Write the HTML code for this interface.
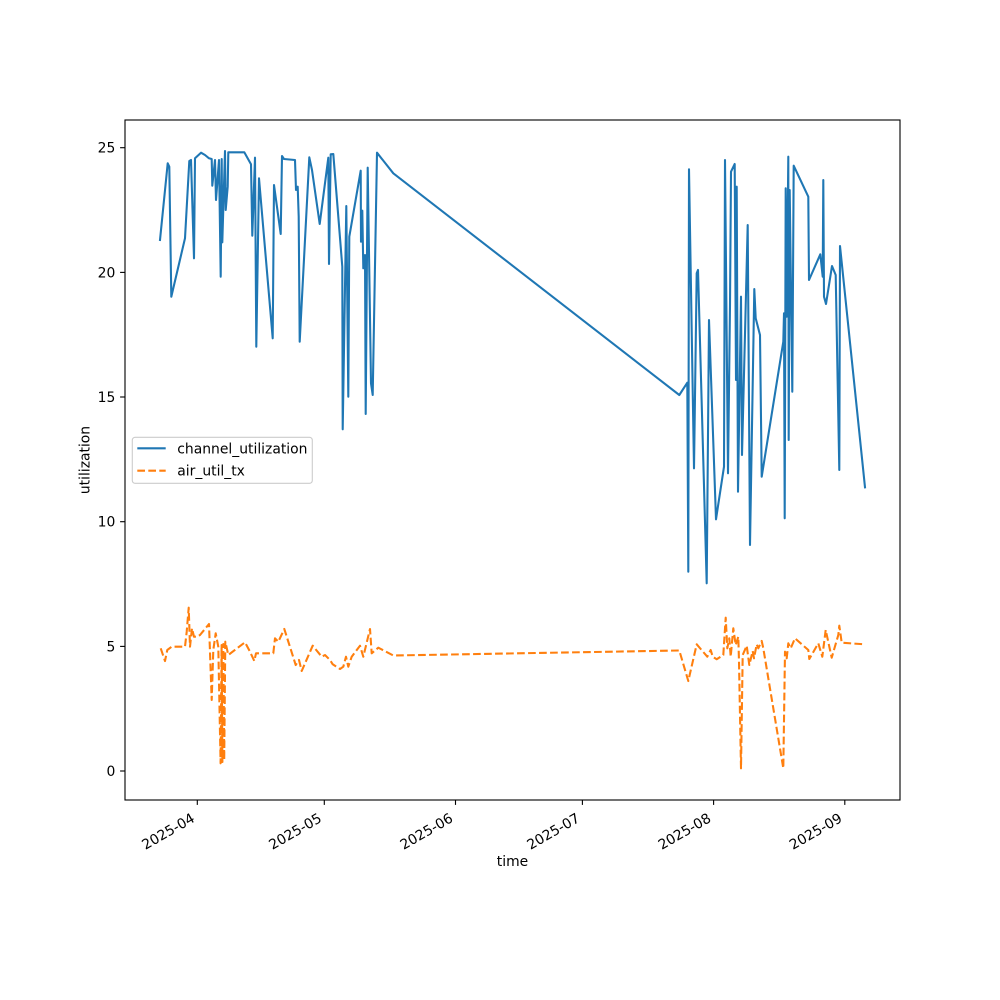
<!DOCTYPE html>
<html><head><meta charset="utf-8"><style>
html,body{margin:0;padding:0;background:#fff;}
svg{display:block;}
text{font-family:"DejaVu Sans","Liberation Sans",sans-serif;font-size:13.9px;fill:#000;}
</style></head><body>
<svg width="1000" height="1000" viewBox="0 0 1000 1000" xmlns="http://www.w3.org/2000/svg">
<rect x="0" y="0" width="1000" height="1000" fill="#fff"/>
<defs><clipPath id="c"><rect x="125" y="120" width="775" height="680"/></clipPath></defs>
<g clip-path="url(#c)" fill="none" stroke-linejoin="round">
<polyline stroke="#1f77b4" stroke-width="2.08" stroke-linecap="square" points="160,240 167.7,163.3 169.3,166.7 171.3,296.7 185,238.3 189.3,161 191,160 194,258.3 195,158.3 201,152.7 205,155 209,158.3 211.7,159 212.3,185.7 215,160 216,200 219,160 220.7,276.7 221.7,159 222.3,242.3 225,151 225.7,210 227.7,186.7 228.3,152.3 244.3,152.3 251,164.3 252.3,235.7 255,157.7 256.3,346.7 259,178.3 272.7,338.3 274,185 280.7,234 282,156 284,159 295,160 296,190 297.7,186.7 298.7,216.7 299.7,341.7 309.3,157.3 312,170 319.7,224 328.3,157.7 329,264 330.7,154.3 333.3,154 342.3,266.7 342.7,429.3 346.3,206 348.3,396.7 349.3,236.7 360.7,170.7 361,241.7 362.3,210.7 363.3,268.3 365,255 365.7,414 367.7,167.7 371,383.3 372.7,395 377,152.7 393.3,173.3 679.3,395 687.3,382.7 688.3,571.7 689,169.3 694,468.3 696.7,273.3 698,270 706.7,583.3 709,320 716,519.3 724,466.7 725,160 728,473.3 730,305 731,171.7 734.7,164 736,380 736.7,186.7 738,491.7 741,296.7 742,455 747.7,225 750,545 754.3,289 755.7,318.3 760,335 761.7,476.7 783.3,341.7 784,313.3 784.7,518.3 785.7,188.3 786.7,316.7 788.3,156.7 788.7,440 789.7,190 792.3,391.7 793.7,165.7 808.3,196.7 809,280 820.3,254.3 822.7,276.7 823.3,180 824,296.7 826,304 832,266 835.7,275 839.3,470 840,246 865,487.3"/>
<polyline stroke="#ff7f0e" stroke-width="2.08" stroke-dasharray="7.7 3.3" points="160.7,648.3 165,661 167.3,650 171.7,646.7 185,646.7 186.7,631.7 188.7,607.7 190,646.7 192,628.3 194,636.7 197.3,636.7 200,635 209,624 211.7,700 213.3,650 215.7,633.3 218.3,646.7 220.6,763.3 221.6,645 222.4,762 223.3,644 224.2,760 225.3,641.7 228.3,655 245,642.3 250,651.7 254.3,661 256,653.3 273.3,653.3 275,638.3 278.3,641.7 284.3,629 295.7,665 299,660 301.7,671 312.7,645.7 321.7,656.7 325,655 330,660 332.7,664.3 340,669 343.3,666.7 346,656.7 348.3,666.7 351.7,656.7 360,645.7 363.3,656.7 370,629 371.7,653.3 378.3,647.7 393.3,655.5 679.3,650.5 688.3,681 696.7,644.3 707.3,656.7 710.7,650 712.7,656.7 716.7,659.3 723.3,655 725.7,617.7 727.3,648.3 729.3,638.3 730.7,656.7 733.3,628.3 735.7,645 738.3,636.7 739,661.7 741,768.3 742.7,655 746.7,645.7 749.3,665 752.7,651 754,658.3 756.7,644.3 758.3,648.3 761.7,641 763.3,648.3 783.3,768.3 785,651.7 786.7,658.3 788.3,643.3 790.7,648.3 795,638.3 808.3,650 809.3,659 818.3,643.3 822.3,656.7 825.7,630 831.7,657.7 838.3,635 839.3,625.7 841.7,642.7 864.3,644.3"/>
</g>
<rect x="125" y="120" width="775" height="680" fill="none" stroke="#000" stroke-width="1.11"/>
<g stroke="#000" stroke-width="1.11">
<line x1="125" y1="771" x2="120.1" y2="771"/>
<line x1="125" y1="646.4" x2="120.1" y2="646.4"/>
<line x1="125" y1="521.7" x2="120.1" y2="521.7"/>
<line x1="125" y1="397" x2="120.1" y2="397"/>
<line x1="125" y1="272.4" x2="120.1" y2="272.4"/>
<line x1="125" y1="147.7" x2="120.1" y2="147.7"/>
<line x1="197.3" y1="800" x2="197.3" y2="804.9"/>
<line x1="324.3" y1="800" x2="324.3" y2="804.9"/>
<line x1="455.5" y1="800" x2="455.5" y2="804.9"/>
<line x1="582.4" y1="800" x2="582.4" y2="804.9"/>
<line x1="713.6" y1="800" x2="713.6" y2="804.9"/>
<line x1="844.8" y1="800" x2="844.8" y2="804.9"/>
</g>
<g text-anchor="end">
<text x="115.3" y="776">0</text>
<text x="115.3" y="651.4">5</text>
<text x="115.3" y="526.7">10</text>
<text x="115.3" y="402">15</text>
<text x="115.3" y="277.4">20</text>
<text x="115.3" y="152.7">25</text>
</g>
<g text-anchor="end">
<text transform="translate(195.7,821) rotate(-30)">2025-04</text>
<text transform="translate(322.7,821) rotate(-30)">2025-05</text>
<text transform="translate(453.9,821) rotate(-30)">2025-06</text>
<text transform="translate(580.8,821) rotate(-30)">2025-07</text>
<text transform="translate(712,821) rotate(-30)">2025-08</text>
<text transform="translate(843.2,821) rotate(-30)">2025-09</text>
</g>
<text x="512.5" y="866" text-anchor="middle">time</text>
<text transform="translate(89.5,460) rotate(-90)" text-anchor="middle">utilization</text>
<rect x="132.3" y="437.3" width="180" height="46" rx="2.8" ry="2.8" fill="#fff" fill-opacity="0.8" stroke="#cccccc" stroke-width="1.11"/>
<line x1="137.3" y1="448.3" x2="165.7" y2="448.3" stroke="#1f77b4" stroke-width="2.08"/>
<line x1="137.3" y1="470.7" x2="165.7" y2="470.7" stroke="#ff7f0e" stroke-width="2.08" stroke-dasharray="7.7 3.3"/>
<text x="177.3" y="453.3">channel_utilization</text>
<text x="177.3" y="475.7">air_util_tx</text>
</svg>
</body></html>
